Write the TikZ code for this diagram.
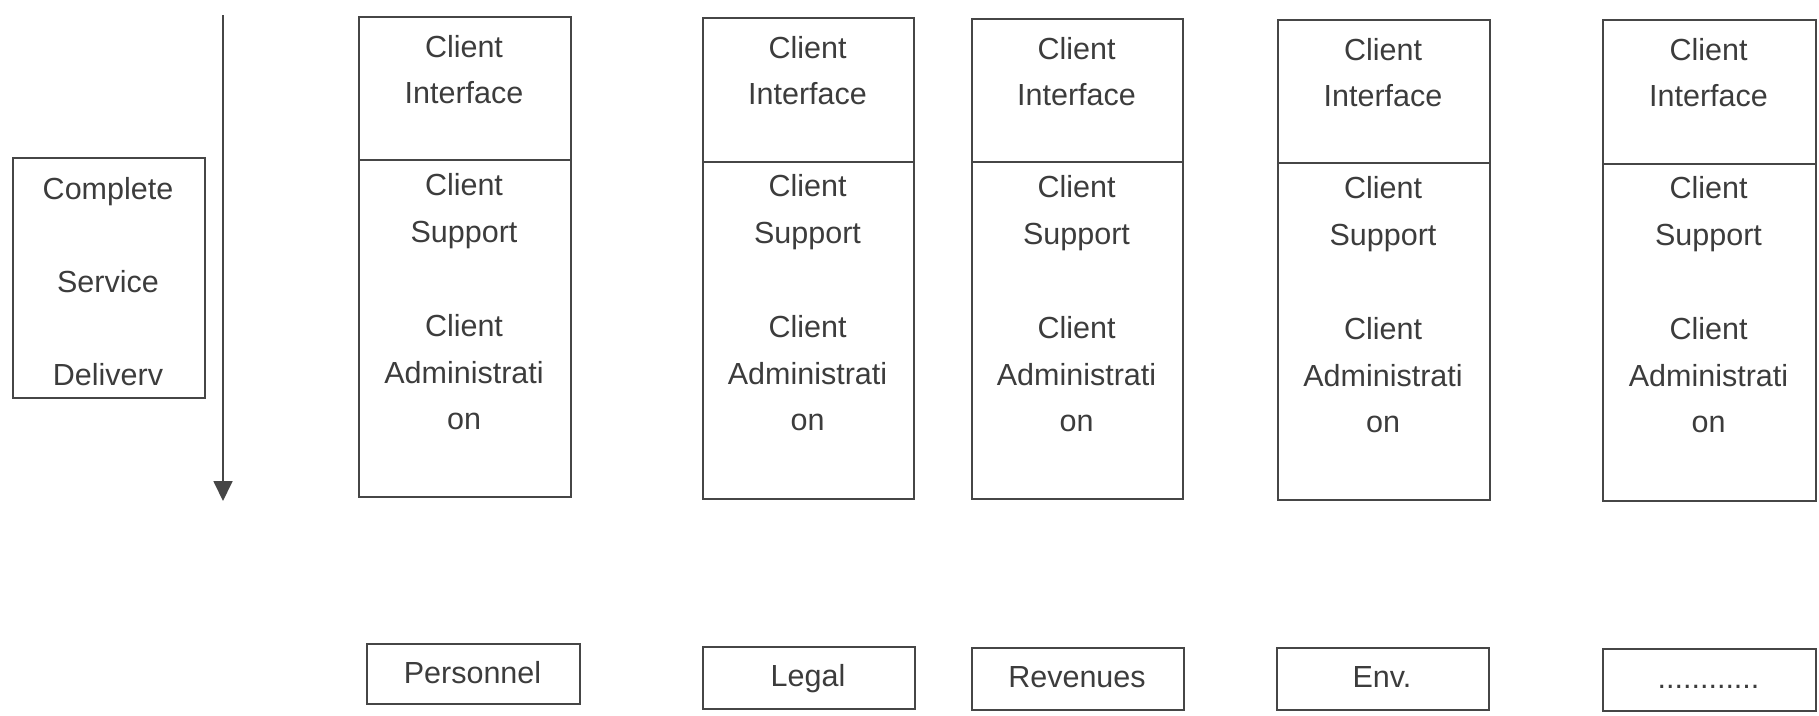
\documentclass[tikz,border=0pt]{standalone}
\usepackage{fontspec}
\setmainfont{Liberation Sans}
\usetikzlibrary{arrows.meta}
\definecolor{ink}{RGB}{70,70,70}
\definecolor{txt}{RGB}{60,60,60}
\newcommand{\mydotrow}{............}
\begin{document}
\begin{tikzpicture}[x=1pt,y=-1pt,
  box/.style={draw=ink, line width=1.8pt, inner sep=0pt, anchor=north west},
  lbl/.style={text=txt, font=\fontsize{30.5}{36}\selectfont, anchor=base, inner sep=0pt},
  flow/.style={draw=ink, line width=1.8pt, -{Triangle[length=20pt,width=19pt]}}]
\useasboundingbox (0,0) rectangle (1819,715);

% left box
\node[box, minimum width=192pt, minimum height=240pt] (csd) at (12,157) {};
\node[lbl] (csd1) at (108,199) {Complete};
\node[lbl] (csd2) at (108,292) {Service};
\node[lbl] (csd3) at (108,385) {Deliverv};

% arrow
\coordinate (arrS) at (223,15);
\coordinate (arrE) at (223,501);
\draw[flow] (arrS) -- (arrE);

% columns
\foreach \n/\xa/\xb/\ya/\yd/\yb in {1/358/570/16/159/496, 2/702/913/17/161/498, 3/971/1182/18/161/498, 4/1277/1489/19/162/499, 5/1602/1815/19/163/500} {
  \node[box, minimum width={\xb-\xa}, minimum height={\yd-\ya}] (top\n) at (\xa,\ya) {};
  \node[box, minimum width={\xb-\xa}, minimum height={\yb-\yd}] (bot\n) at (\xa,\yd) {};
  \node[lbl] (ci\n a) at ({(\xa+\xb)/2},{\ya+41}) {Client};
  \node[lbl] (ci\n b) at ({(\xa+\xb)/2},{\ya+87}) {Interface};
  \node[lbl] (cs\n a) at ({(\xa+\xb)/2},{\ya+179}) {Client};
  \node[lbl] (cs\n b) at ({(\xa+\xb)/2},{\ya+226}) {Support};
  \node[lbl] (ca\n a) at ({(\xa+\xb)/2},{\ya+320}) {Client};
  \node[lbl] (ca\n b) at ({(\xa+\xb)/2},{\ya+367}) {Administrati};
  \node[lbl] (ca\n c) at ({(\xa+\xb)/2},{\ya+413}) {on};
}

% bottom boxes
\foreach \n/\xa/\xb/\ya/\yb/\lab in {1/366/579/643/703/Personnel, 2/702/914/646/708/Legal, 3/971/1183/647/709/Revenues, 4/1276/1488/647/709/Env., 5/1602/1815/648/710/\mydotrow} {
  \node[box, minimum width={\xb-\xa}, minimum height={\yb-\ya}] (dep\n) at (\xa,\ya) {};
  \node[lbl] (dep\n t) at ({(\xa+\xb)/2},{\ya+40}) {\lab};
}
\end{tikzpicture}
\end{document}
